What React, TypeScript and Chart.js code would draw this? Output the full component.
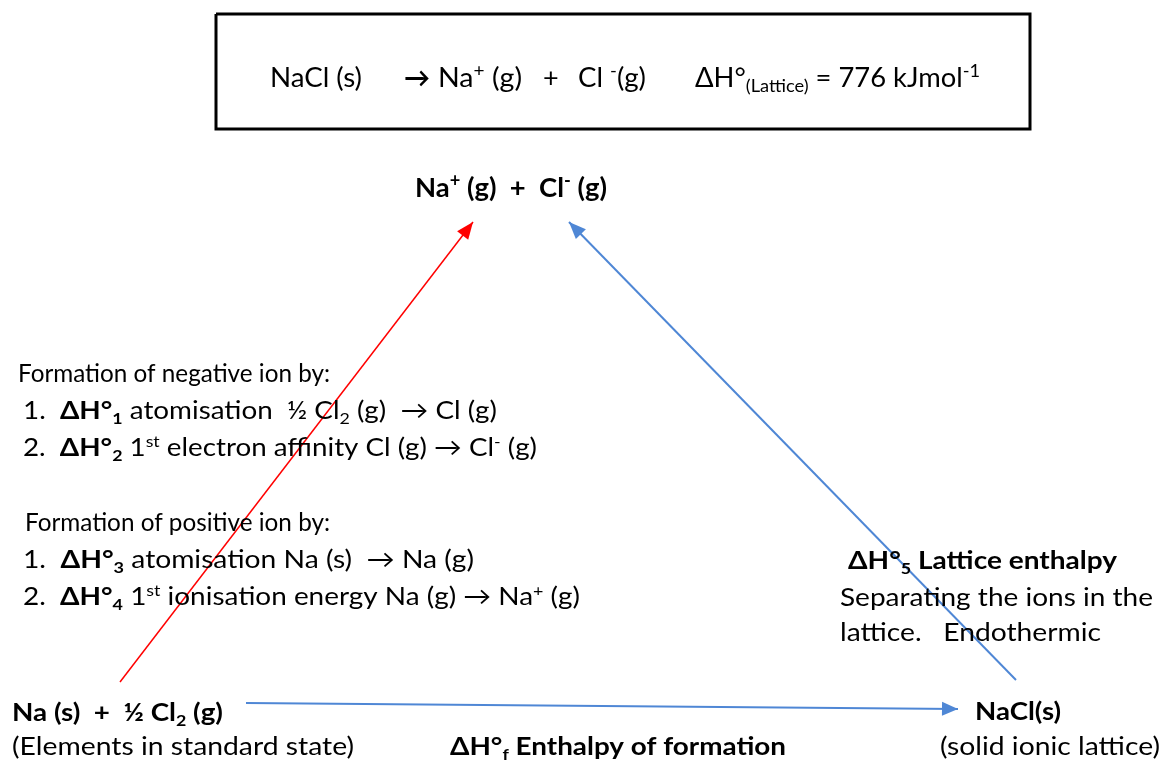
import React, { useEffect, useRef } from 'react';
import { Chart, registerables } from 'chart.js';

Chart.register(...registerables);

const W = 1163;
const H = 762;
const FONT = "Lato, 'DejaVu Sans', sans-serif";

// Diagram geometry in scale units (x: 0..1163, y: 0..762 downward)
const boxX = [216, 1030, 1030, 216, 216];
const boxY = [14, 14, 129, 129, 14];
const ionFormationX = [120, 473];
const ionFormationY = [682, 222];
const latticeX = [1016, 569];
const latticeY = [680, 222];
const formationX = [246, 958];
const formationY = [703, 709];

const RED = '#FF0000';
const BLUE = '#4F87D5';

type Seg = { t: string; b?: boolean; v?: 'sup' | 'sub' };
type TextItem = { x: number; y: number; size: number; segs: Seg[]; right?: number };

const n = (t: string): Seg => ({ t });
const b = (t: string): Seg => ({ t, b: true });
const sup = (t: string, bold = false): Seg => ({ t, b: bold, v: 'sup' });
const sub = (t: string, bold = false): Seg => ({ t, b: bold, v: 'sub' });

const boxLine: TextItem[] = [
  { x: 270, y: 87, size: 27, right: 362, segs: [n('NaCl (s)')] },
  { x: 404, y: 87, size: 27, right: 430, segs: [b('→')] },
  { x: 438, y: 87, size: 27, right: 522, segs: [n('Na'), sup('+'), n(' (g)')] },
  { x: 543, y: 87, size: 27, segs: [n('+')] },
  { x: 578, y: 87, size: 27, right: 646, segs: [n('Cl '), sup('-'), n('(g)')] },
  { x: 695, y: 87, size: 27, right: 980, segs: [n('ΔH°'), sub('(Lattice)'), n(' = 776 kJmol'), sup('-1')] },
];

const ionsLabel: TextItem[] = [
  { x: 415, y: 197, size: 27, right: 607, segs: [b('Na'), sup('+', true), b(' (g)  +  Cl'), sup('-', true), b(' (g)')] },
];

const negativeIonLines: TextItem[] = [
  { x: 18, y: 382, size: 25, right: 330, segs: [n('Formation of negative ion by:')] },
  { x: 23, y: 419, size: 25, right: 497, segs: [n('1.  '), b('ΔH°'), sub('1', true), n(' atomisation  ½ Cl'), sub('2'), n(' (g)  → Cl (g)')] },
  { x: 23, y: 456, size: 25, right: 537, segs: [n('2.  '), b('ΔH°'), sub('2', true), n(' 1'), sup('st'), n(' electron affinity Cl (g) → Cl'), sup('-'), n(' (g)')] },
];

const positiveIonLines: TextItem[] = [
  { x: 25, y: 531, size: 25, right: 330, segs: [n('Formation of positive ion by:')] },
  { x: 23, y: 568, size: 25, right: 474, segs: [n('1.  '), b('ΔH°'), sub('3', true), n(' atomisation Na (s)  → Na (g)')] },
  { x: 23, y: 605, size: 25, right: 580, segs: [n('2.  '), b('ΔH°'), sub('4', true), n(' 1'), sup('st'), n(' ionisation energy Na (g) → Na'), sup('+'), n(' (g)')] },
];

const latticeLines: TextItem[] = [
  { x: 848, y: 569, size: 25, right: 1117, segs: [b('ΔH°'), sub('5', true), b(' Lattice enthalpy')] },
  { x: 840, y: 606, size: 25, right: 1153, segs: [n('Separating the ions in the')] },
  { x: 840, y: 641, size: 25, right: 1101, segs: [n('lattice.   Endothermic')] },
];

const bottomLines: TextItem[] = [
  { x: 12, y: 721, size: 25, right: 223, segs: [b('Na (s)  +  ½ Cl'), sub('2', true), b(' (g)')] },
  { x: 12, y: 755, size: 25, right: 354, segs: [n('(Elements in standard state)')] },
  { x: 450, y: 755, size: 25, right: 786, segs: [b('ΔH°'), sub('f', true), b(' Enthalpy of formation')] },
  { x: 975, y: 720, size: 25, right: 1061, segs: [b('NaCl(s)')] },
  { x: 940, y: 755, size: 25, right: 1160, segs: [n('(solid ionic lattice)')] },
];

const allText: TextItem[] = [
  ...boxLine,
  ...ionsLabel,
  ...negativeIonLines,
  ...positiveIonLines,
  ...latticeLines,
  ...bottomLines,
];

const toPts = (xs: number[], ys: number[]) => xs.map((x, i) => ({ x, y: ys[i] }));

const segFont = (s: Seg, size: number) => {
  const sz = s.v ? Math.round(size * 0.65) : size;
  return `${s.b ? 'bold ' : ''}${sz}px ${FONT}`;
};

const diagramPlugin = {
  id: 'diagramPlugin',
  afterDatasetsDraw(chart: any) {
    const ctx: CanvasRenderingContext2D = chart.ctx;
    const xs = chart.scales.x;
    const ys = chart.scales.y;

    // arrow heads
    chart.data.datasets.forEach((ds: any, i: number) => {
      if (!ds.arrowHead) return;
      const pts = chart.getDatasetMeta(i).data;
      const p0 = pts[pts.length - 2];
      const p1 = pts[pts.length - 1];
      const ang = Math.atan2(p1.y - p0.y, p1.x - p0.x);
      const { len, half } = ds.arrowHead;
      const bx = p1.x - len * Math.cos(ang);
      const by = p1.y - len * Math.sin(ang);
      ctx.save();
      ctx.fillStyle = ds.borderColor;
      ctx.beginPath();
      ctx.moveTo(p1.x, p1.y);
      ctx.lineTo(bx + half * Math.sin(ang), by - half * Math.cos(ang));
      ctx.lineTo(bx - half * Math.sin(ang), by + half * Math.cos(ang));
      ctx.closePath();
      ctx.fill();
      ctx.restore();
    });

    // texts
    ctx.save();
    ctx.fillStyle = '#000';
    ctx.textBaseline = 'alphabetic';
    ctx.textAlign = 'left';
    for (const item of allText) {
      const px = xs.getPixelForValue(item.x);
      const py = ys.getPixelForValue(item.y);
      let nat = 0;
      for (const s of item.segs) {
        ctx.font = segFont(s, item.size);
        nat += ctx.measureText(s.t).width;
      }
      let k = 1;
      if (item.right != null && nat > 0) k = (xs.getPixelForValue(item.right) - px) / nat;
      ctx.save();
      ctx.translate(px, py);
      ctx.scale(k, 1);
      let cx = 0;
      for (const s of item.segs) {
        ctx.font = segFont(s, item.size);
        const dy = s.v === 'sup' ? -0.38 * item.size : s.v === 'sub' ? 0.2 * item.size : 0;
        ctx.fillText(s.t, cx, dy);
        cx += ctx.measureText(s.t).width;
      }
      ctx.restore();
    }
    ctx.restore();
  },
};

export default function App() {
  const ref = useRef<HTMLCanvasElement | null>(null);

  useEffect(() => {
    document.body.style.margin = '0';
    document.body.style.background = '#fff';
    const canvas = ref.current;
    if (!canvas) return;
    const chart = new Chart(canvas, {
      type: 'scatter',
      data: {
        datasets: [
          {
            label: 'box',
            data: toPts(boxX, boxY),
            showLine: true,
            borderColor: '#000',
            borderWidth: 3,
            pointRadius: 0,
            tension: 0,
          } as any,
          {
            label: 'ions',
            data: toPts(ionFormationX, ionFormationY),
            showLine: true,
            borderColor: RED,
            borderWidth: 1.5,
            pointRadius: 0,
            arrowHead: { len: 17, half: 7 },
          } as any,
          {
            label: 'lattice',
            data: toPts(latticeX, latticeY),
            showLine: true,
            borderColor: BLUE,
            borderWidth: 2,
            pointRadius: 0,
            arrowHead: { len: 17, half: 7 },
          } as any,
          {
            label: 'formation',
            data: toPts(formationX, formationY),
            showLine: true,
            borderColor: BLUE,
            borderWidth: 2,
            pointRadius: 0,
            arrowHead: { len: 16, half: 7 },
          } as any,
        ],
      },
      options: {
        animation: false,
        responsive: false,
        maintainAspectRatio: false,
        devicePixelRatio: 1,
        layout: { padding: 0 },
        plugins: { legend: { display: false }, tooltip: { enabled: false }, title: { display: false } },
        events: [],
        scales: {
          x: { type: 'linear', min: 0, max: W, display: false },
          y: { type: 'linear', min: 0, max: H, reverse: true, display: false },
        },
      },
      plugins: [diagramPlugin],
    });
    return () => chart.destroy();
  }, []);

  return (
    <div style={{ width: W, height: H, background: '#fff' }}>
      <canvas ref={ref} width={W} height={H} style={{ display: 'block', width: W, height: H }} />
    </div>
  );
}
